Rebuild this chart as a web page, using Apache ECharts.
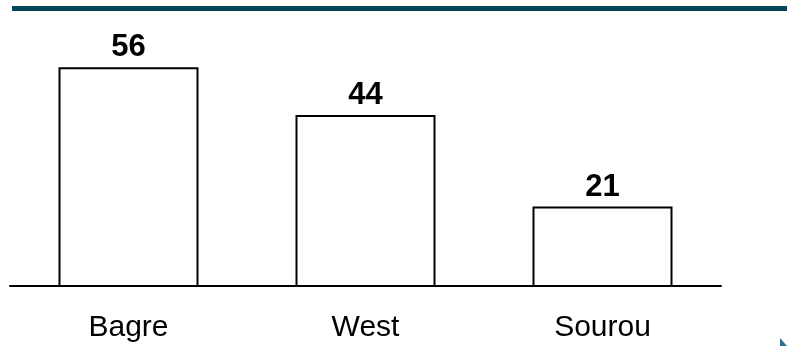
<!DOCTYPE html>
<html>
<head>
<meta charset="utf-8">
<script src="https://cdn.jsdelivr.net/npm/echarts@6/dist/echarts.min.js"></script>
<style>
  html, body { margin: 0; padding: 0; background: #ffffff; }
  #chart { width: 787px; height: 346px; }
</style>
</head>
<body>
<div id="chart"></div>
<script>
const categories = ["Bagre", "West", "Sourou"];
const values = [56, 44, 21];

const chart = echarts.init(document.getElementById('chart'), null, { renderer: 'canvas' });
chart.setOption({
  animation: false,
  backgroundColor: '#ffffff',
  grid: { left: 10, right: 66, top: 10, bottom: 60, containLabel: false },
  xAxis: {
    type: 'category',
    data: categories,
    axisLine: { show: true, lineStyle: { color: '#000000', width: 2 } },
    axisTick: { show: false },
    axisLabel: {
      color: '#000000',
      fontFamily: 'Liberation Sans, Arial, sans-serif',
      fontSize: 30,
      margin: 27
    }
  },
  yAxis: {
    type: 'value',
    min: 1,
    max: 70.4,
    show: false,
    splitLine: { show: false }
  },
  series: [{
    type: 'bar',
    data: values,
    barWidth: 140,
    itemStyle: { color: '#ffffff', borderColor: '#000000', borderWidth: 2 },
    label: {
      show: true,
      position: 'top',
      distance: 4,
      color: '#000000',
      fontFamily: 'Liberation Sans, Arial, sans-serif',
      fontWeight: 'bold',
      fontSize: 31
    }
  }],
  graphic: [
    { type: 'rect', shape: { x: 12, y: 6, width: 775, height: 5 }, style: { fill: '#00465A' }, silent: true },
    { type: 'polygon', shape: { points: [[780, 338], [780, 346], [787, 346]] }, style: { fill: '#2A6F8F' }, silent: true }
  ]
});
</script>
</body>
</html>
